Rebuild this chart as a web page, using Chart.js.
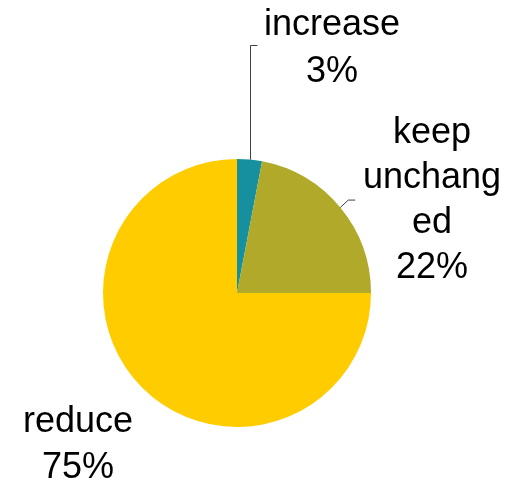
<!DOCTYPE html>
<html>
<head>
<meta charset="utf-8">
<script src="https://cdn.jsdelivr.net/npm/chart.js@4"></script>
<style>
html,body{margin:0;padding:0;background:#fff;}
#wrap{width:508px;height:485px;position:relative;}
</style>
</head>
<body>
<div id="wrap"><canvas id="c" width="508" height="485"></canvas></div>
<script>
const categories = ["increase", "keep unchanged", "reduce"];
const labelLines = [["increase"], ["keep", "unchang", "ed"], ["reduce"]];
const values = [3, 22, 75];
const percentLabels = ["3%", "22%", "75%"];
const colors = ["#16909f", "#b0a92a", "#ffcc00"];

const labelPlugin = {
  id: 'pieLabels',
  afterDraw(chart) {
    const ctx = chart.ctx;
    const arcs = chart.getDatasetMeta(0).data;
    ctx.save();
    ctx.font = '36px "Liberation Sans", Arial, sans-serif';
    ctx.fillStyle = '#000';
    ctx.textAlign = 'center';
    ctx.textBaseline = 'alphabetic';
    ctx.strokeStyle = '#404040';
    ctx.lineWidth = 1;
    // label anchor positions (offsets relative to pie centre)
    const layouts = [
      {x: 95, y: -258, lh: 47},
      {x: 195, y: -150, lh: 45},
      {x: -159, y: 139, lh: 46}
    ];
    arcs.forEach((arc, i) => {
      const cx = arc.x, cy = arc.y, r = arc.outerRadius;
      const mid = (arc.startAngle + arc.endAngle) / 2;
      const px = cx + r * Math.cos(mid), py = cy + r * Math.sin(mid);
      const L = layouts[i];
      const lines = labelLines[i].concat([percentLabels[i]]);
      lines.forEach((t, k) => {
        ctx.fillText(t, cx + L.x, cy + L.y + k * L.lh);
      });
      ctx.beginPath();
      if (i === 0) {
        const x = Math.round(px) + 0.5;
        ctx.moveTo(x, py);
        ctx.lineTo(x, cy - 247.5);
        ctx.lineTo(x + 7, cy - 247.5);
        ctx.stroke();
      } else if (i === 1) {
        ctx.moveTo(px, py);
        ctx.lineTo(px + 8, py - 7.5);
        ctx.lineTo(px + 15, py - 7.5);
        ctx.stroke();
      }
    });
    ctx.restore();
  }
};

new Chart(document.getElementById('c'), {
  type: 'pie',
  data: {
    labels: categories,
    datasets: [{
      data: values,
      backgroundColor: colors,
      borderWidth: 0
    }]
  },
  options: {
    responsive: false,
    animation: false,
    layout: {padding: {left: 103, right: 137, top: 159, bottom: 58}},
    plugins: {legend: {display: false}, tooltip: {enabled: false}}
  },
  plugins: [labelPlugin]
});
</script>
</body>
</html>
